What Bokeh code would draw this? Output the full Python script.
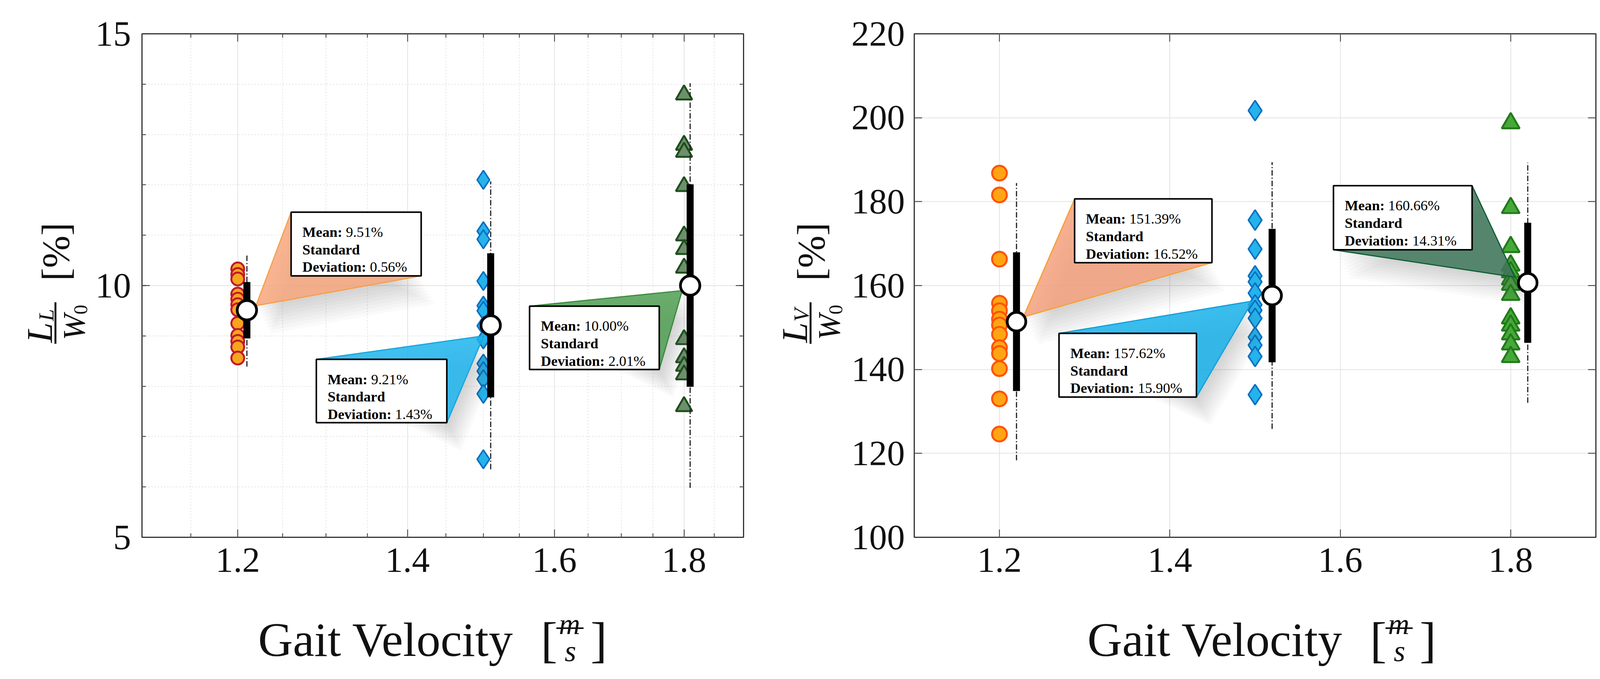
import numpy as np

from bokeh.core.properties import value
from bokeh.embed import file_html
from bokeh.layouts import column, row
from bokeh.models import (CustomJSTickFormatter, FixedTicker, LinearAxis,
                          LogAxis, NumeralTickFormatter)
from bokeh.plotting import figure
from bokeh.resources import INLINE

SERIF = "Liberation Serif"

# gait velocities [m/s]
speeds = [1.2, 1.5, 1.8]

# L_L / W_0 [%], one value per subject
ll_slow = [10.33, 10.22, 10.13, 9.83, 9.73, 9.62, 9.52, 9.25, 9.01, 8.89, 8.78, 8.56]
ll_mid = [12.10, 11.08, 10.92, 10.09, 9.60, 9.50, 9.20, 8.93, 8.45, 8.30, 8.14, 7.85, 6.55]
ll_fast = [13.79, 12.79, 12.65, 11.97, 10.99, 10.72, 10.35, 8.93, 8.57, 8.40, 8.23, 7.60]
ll_mean = [9.51, 9.21, 10.00]
ll_sd = [0.56, 1.43, 2.01]

# L_V / W_0 [%], one value per subject
lv_slow = [186.8, 181.6, 166.3, 155.8, 154.0, 152.0, 150.6, 148.4, 145.2, 143.8, 140.2, 133.0, 124.6]
lv_mid = [201.7, 175.6, 168.7, 162.3, 160.9, 158.2, 155.4, 154.1, 152.2, 147.7, 145.8, 143.1, 134.0]
lv_fast = [198.7, 178.5, 169.2, 164.8, 163.2, 161.5, 160.2, 157.8, 152.2, 150.5, 148.4, 146.0, 143.0]
lv_mean = [151.39, 157.62, 160.66]
lv_sd = [16.52, 15.90, 14.31]

x_major = [1.2, 1.4, 1.6, 1.8]
x_minor = [1.15, 1.25, 1.3, 1.35, 1.45, 1.5, 1.55, 1.65, 1.7, 1.75, 1.85]
ll_major = [5, 10, 15]
ll_minor = list(range(5, 16))
lv_major = [100, 120, 140, 160, 180, 200, 220]

# layout is designed in reference pixels and shrunk a hair so the page never overflows
S = 0.994
TOP, BOTTOM, PAGE_BOTTOM = 95, 1391, 1729
FRAME_H = BOTTOM - TOP
STRIP_H = 198
K_LOG = np.log(1.9 / 1.1) / 1549   # natural-log units per pixel in the left frame


def z(v):
    return int(round(v * S))


def px(v):
    return f"{v * S:.1f}px"


def panel(frame_w, border_left, border_right, x_type, y_range):
    return figure(frame_width=z(frame_w), frame_height=z(FRAME_H),
                  x_axis_type=x_type, x_range=(1.1, 1.9), y_range=y_range,
                  min_border_left=z(border_left), min_border_right=z(border_right),
                  min_border_top=z(TOP - 8), min_border_bottom=z(1721 - (TOP - 8) - FRAME_H - STRIP_H),
                  output_backend="svg", toolbar_location=None)


def strip(frame_w, frame_h, borders, x_range, y_range):
    bl, br, bt, bb = borders
    s = figure(frame_width=z(frame_w), frame_height=z(frame_h), x_range=x_range, y_range=y_range,
               x_axis_location=None, y_axis_location=None, min_border=0,
               min_border_left=z(bl), min_border_right=z(br), min_border_top=z(bt),
               min_border_bottom=z(bb), outline_line_color=None,
               output_backend="svg", toolbar_location=None)
    s.grid.visible = False
    return s


def dress(p, yticks, yminor, top_cls, minor_grid, standoff):
    xt = FixedTicker(ticks=x_major, minor_ticks=x_minor if minor_grid else [])
    yt = FixedTicker(ticks=yticks, minor_ticks=yminor)
    bottom, left = p.below[0], p.left[0]
    bottom.ticker, left.ticker = xt, yt
    bottom.formatter = NumeralTickFormatter(format="0.0")
    p.xgrid.ticker = xt
    p.ygrid.ticker = yt
    blank = CustomJSTickFormatter(code="return ''")
    top = top_cls(ticker=xt, formatter=blank, major_label_standoff=0,
                  major_label_text_font_size="10px")
    right = LinearAxis(ticker=yt, formatter=blank, major_label_standoff=0,
                       major_label_text_font_size="10px")
    p.add_layout(top, "above")
    p.add_layout(right, "right")
    for ax in (bottom, left, top, right):
        ax.axis_line_color = None
        ax.major_tick_in = z(20)
        ax.major_tick_out = 0
        ax.minor_tick_in = z(10)
        ax.minor_tick_out = 0
        ax.major_tick_line_color = "#333333"
        ax.minor_tick_line_color = "#333333"
        ax.major_tick_line_width = 2
        ax.minor_tick_line_width = 2
    for ax in (bottom, left):
        ax.major_label_text_font = SERIF
        ax.major_label_text_font_size = px(92)
        ax.major_label_text_color = "#111111"
    bottom.major_label_standoff = z(28)
    left.major_label_standoff = z(standoff)
    p.grid.grid_line_color = "#e3e3e3"
    p.grid.grid_line_width = 2
    if minor_grid:
        p.grid.minor_grid_line_color = "#e6e6e6"
        p.grid.minor_grid_line_width = 2
        p.grid.minor_grid_line_dash = "4 4"
    p.outline_line_color = "#333333"
    p.outline_line_width = 3


def words(s, xs, ys, texts, size, **kw):
    kw.setdefault("text_baseline", "alphabetic")
    s.text(x=xs, y=ys, text=texts, text_font=value(SERIF),
           text_font_size=value(px(size)), text_color="#111111", **kw)


# the title strips use reference page pixels as their data coordinates
def x_title(s, x0):
    words(s, [x0], [1655], ["Gait Velocity"], 124)
    words(s, [x0 + 728, x0 + 856], [1656, 1656], ["[", "]"], 128)
    words(s, [x0 + 802, x0 + 804], [1614, 1684], ["m", "s"], 76,
          text_font_style="italic", text_align="center")
    s.segment(x0 + 768, 1625, x0 + 838, 1625, line_color="#111111", line_width=4 * S)


def y_title(s, xb, sub):
    rot = dict(angle=np.pi / 2, text_align="center", text_baseline="middle")
    words(s, [xb + 1], [656], ["[%]"], 100, **rot)
    s.segment(xb, 786, xb, 893, line_color="#111111", line_width=5 * S)
    words(s, [xb - 41], [864], ["L"], 94, text_font_style="italic", **rot)
    words(s, [xb - 24], [819], [sub], 56, text_font_style="italic", **rot)
    words(s, [xb + 48], [850], ["W"], 80, text_font_style="italic", **rot)
    words(s, [xb + 65], [805], ["0"], 50, **rot)


def spread(p, mx, means, sds):
    lo2 = [m - 2 * s for m, s in zip(means, sds)]
    hi2 = [m + 2 * s for m, s in zip(means, sds)]
    lo = [m - s for m, s in zip(means, sds)]
    hi = [m + s for m, s in zip(means, sds)]
    p.segment(mx, lo2, mx, hi2, line_color="#222222", line_width=3, line_dash="14 5 3 5")
    p.segment(mx, lo, mx, hi, line_color="black", line_width=18 * S)


def wedge(p, apex, c1, c2, fill, edge, shift):
    xs = [apex[0], c1[0], c2[0]]
    ys = [apex[1], c1[1], c2[1]]
    # soft drop shadow from stacked, faint copies
    for k in range(1, 10):
        sx, sy = zip(*[shift(x, y, 4 * k, 8 * k) for x, y in zip(xs, ys)])
        p.patch(list(sx), list(sy), fill_color="#6f6f6f", fill_alpha=0.03, line_color=None)
    p.patch(xs, ys, fill_color=fill, fill_alpha=0.85, line_color=edge, line_width=3)


def box(p, rect, mean, sd):
    left, right, top, bottom = rect
    p.quad(left=[left], right=[right], top=[top], bottom=[bottom],
           fill_color="white", line_color="black", line_width=4 * S)
    font = dict(text_font=value(SERIF), text_font_size=value(px(37)),
                text_color="black", text_baseline="alphabetic")
    p.text(x=[left] * 3, y=[top] * 3, text=["Mean:", "Standard", "Deviation:"],
           x_offset=29 * S, y_offset=[51 * S, 96 * S, 141 * S],
           text_font_style="bold", **font)
    p.text(x=[left] * 2, y=[top] * 2, text=[f"{mean:.2f}%", f"{sd:.2f}%"],
           x_offset=[141 * S, 203 * S], y_offset=[51 * S, 141 * S], **font)


# ---------------- left: L_L / W_0 on a log velocity axis ----------------
p1 = panel(1549, 125, 78, "log", (5, 15))
dress(p1, ll_major, ll_minor, LogAxis, True, 28)


def shift_log(x, y, dx, dy):
    return x * np.exp(dx * K_LOG), y - dy / 129.6


p1.scatter([speeds[0]] * len(ll_slow), ll_slow, marker="circle", size=33 * S,
           fill_color="#f7a51c", line_color="#c01a2c", line_width=5 * S)
p1.scatter([speeds[1]] * len(ll_mid), ll_mid, marker="diamond", size=48 * S,
           fill_color="#25b3ec", line_color="#0a6fc0", line_width=4 * S)
p1.scatter([speeds[2]] * len(ll_fast), ll_fast, marker="triangle", size=42 * S,
           fill_color="#6e8f6c", line_color="#1d4f1d", line_width=5 * S)

mx1 = [s + 0.01 for s in speeds]
spread(p1, mx1, ll_mean, ll_sd)

left_boxes = [(1.2596, 1.4176, 11.458, 10.193),
              (1.2888, 1.4510, 8.534, 7.276),
              (1.5643, 1.7599, 9.591, 8.333)]
left_apex = [(1.22, 9.60), (1.5005, 9.00), (1.797, 9.90)]
left_fill = ["#f7a67c", "#1db4ec", "#4f9d52"]
left_edge = ["#f6a04a", "#17a6dc", "#3a8a3d"]
for rect, apex, fill, edge in zip(left_boxes, left_apex, left_fill, left_edge):
    l, r, t, b = rect
    wedge(p1, apex, (l, t), (r, b), fill, edge, shift_log)

p1.scatter(mx1, ll_mean, marker="circle", size=50 * S, fill_color="white",
           line_color="black", line_width=7 * S)
for rect, m, s in zip(left_boxes, ll_mean, ll_sd):
    box(p1, rect, m, s)

xs1 = strip(1549, STRIP_H, (125, 78, 0, 0), (373, 1922), (PAGE_BOTTOM, PAGE_BOTTOM - STRIP_H))
x_title(xs1, 672)
ys1 = strip(240, FRAME_H, (0, 0, TOP - 8, 1721 - (TOP - 8) - FRAME_H), (8, 248), (BOTTOM, TOP))
y_title(ys1, 150, "L")

# ---------------- right: L_V / W_0 on a linear velocity axis ----------------
p2 = panel(1756, 166, 21, "linear", (100, 220))
dress(p2, lv_major, [], LinearAxis, False, 24)


def shift_lin(x, y, dx, dy):
    return x + dx / 2195, y - dy / 10.8


p2.scatter([speeds[0]] * len(lv_slow), lv_slow, marker="circle", size=38 * S,
           fill_color="#ffa514", line_color="#ff5200", line_width=5 * S)
p2.scatter([speeds[1]] * len(lv_mid), lv_mid, marker="diamond", size=52 * S,
           fill_color="#25b3ec", line_color="#0a70c2", line_width=4 * S)
p2.scatter([speeds[2]] * len(lv_fast), lv_fast, marker="triangle", size=46 * S,
           fill_color="#47a83a", line_color="#217a17", line_width=5 * S)

mx2 = [s + 0.02 for s in speeds]
spread(p2, mx2, lv_mean, lv_sd)

right_boxes = [(1.2882, 1.4494, 180.65, 165.46),
               (1.2699, 1.4312, 148.61, 133.43),
               (1.5920, 1.7547, 183.80, 168.52)]
right_apex = [(1.228, 152.5), (1.497, 156.3), (1.805, 162.0)]
right_fill = ["#f4a07c", "#18b0ea", "#3f775a"]
right_edge = ["#f7a033", "#12a0d8", "#0f5e35"]
for i, (rect, apex, fill, edge) in enumerate(zip(right_boxes, right_apex, right_fill, right_edge)):
    l, r, t, b = rect
    if i == 2:
        wedge(p2, apex, (r, t), (l, b), fill, edge, shift_lin)
    else:
        wedge(p2, apex, (l, t), (r, b), fill, edge, shift_lin)

p2.scatter(mx2, lv_mean, marker="circle", size=48 * S, fill_color="white",
           line_color="black", line_width=7 * S)
for rect, m, s in zip(right_boxes, lv_mean, lv_sd):
    box(p2, rect, m, s)

xs2 = strip(1756, STRIP_H, (166, 21, 0, 0), (2361, 4117), (PAGE_BOTTOM, PAGE_BOTTOM - STRIP_H))
x_title(xs2, 2807)
ys2 = strip(195, FRAME_H, (0, 0, TOP - 8, 1721 - (TOP - 8) - FRAME_H), (2000, 2195), (BOTTOM, TOP))
y_title(ys2, 2094, "V")

p = row(row(ys1, column(p1, xs1)), row(ys2, column(p2, xs2)))
open("out.html", "w").write(file_html(p, INLINE))
